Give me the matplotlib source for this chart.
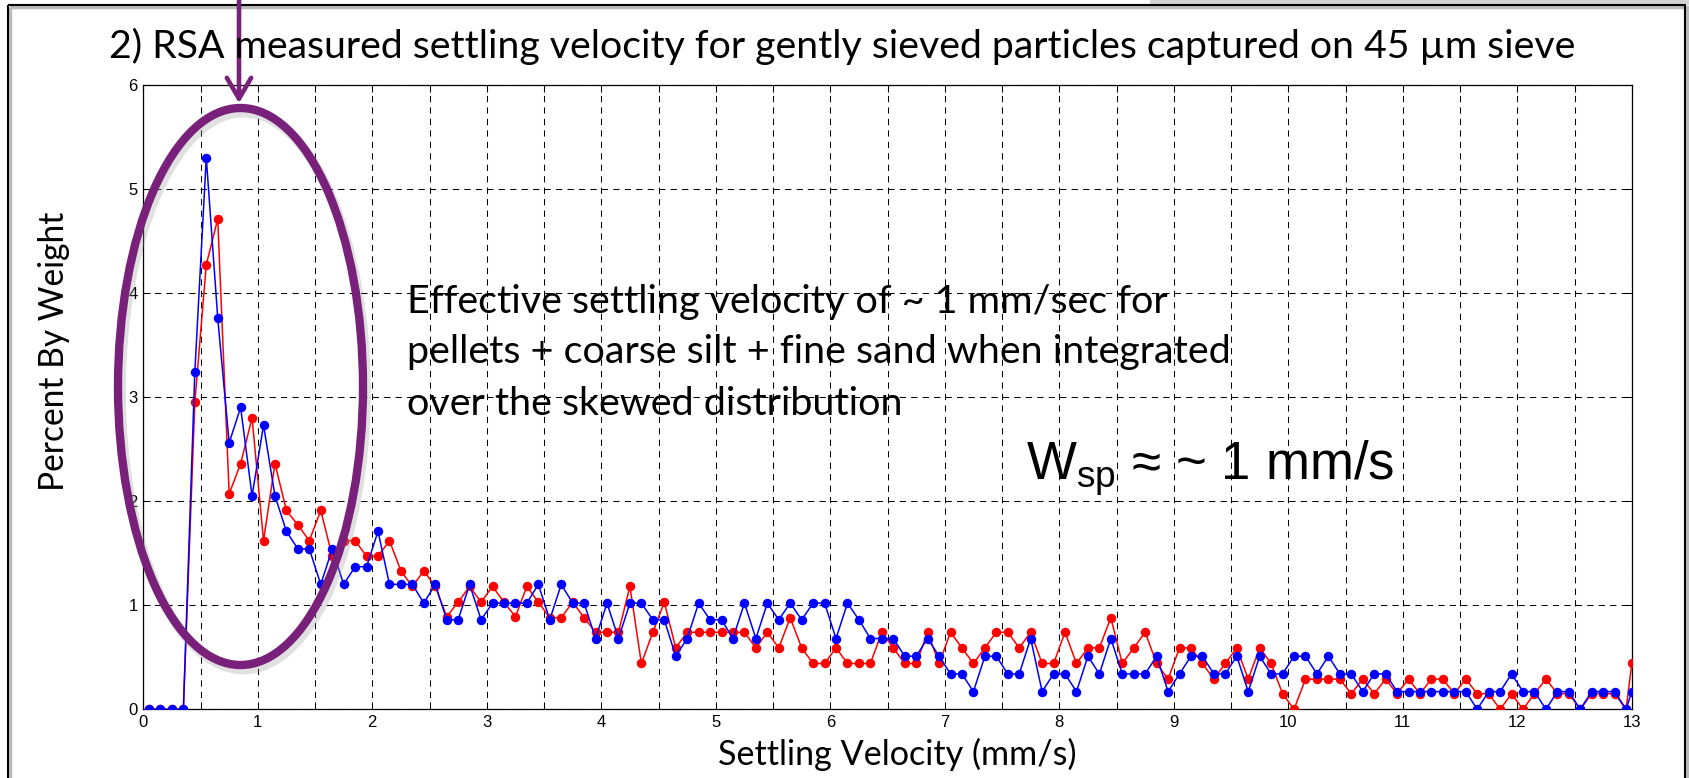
import matplotlib
matplotlib.use('Agg')
import matplotlib.pyplot as plt
from matplotlib.patches import Ellipse, Rectangle, FancyArrowPatch
import numpy as np

# bin centres (mm/s), 0.1 wide, plus the last edge bin at 13
velocity = np.append(np.round(np.arange(0.05, 13.0, 0.1), 2), 13.0)

# percent by weight, blue run
blue_pct = [
    0, 0, 0, 0, 3.24, 5.30, 3.76, 2.56, 2.90, 2.05,            # 0.05 - 0.95
    2.73, 2.05, 1.71, 1.54, 1.54, 1.20, 1.54, 1.20, 1.37, 1.37,  # 1.05 - 1.95
    1.71, 1.20, 1.20, 1.20, 1.02, 1.20, 0.86, 0.86, 1.20, 0.86,  # 2.05 - 2.95
    1.02, 1.02, 1.02, 1.02, 1.20, 0.86, 1.20, 1.02, 1.02, 0.68,  # 3.05 - 3.95
    1.02, 0.68, 1.02, 1.02, 0.86, 0.86, 0.51, 0.68, 1.02, 0.86,  # 4.05 - 4.95
    0.86, 0.68, 1.02, 0.68, 1.02, 0.86, 1.02, 0.86, 1.02, 1.02,  # 5.05 - 5.95
    0.68, 1.02, 0.86, 0.68, 0.68, 0.68, 0.51, 0.51, 0.68, 0.51,  # 6.05 - 6.95
    0.34, 0.34, 0.17, 0.51, 0.51, 0.34, 0.34, 0.68, 0.17, 0.34,  # 7.05 - 7.95
    0.34, 0.17, 0.51, 0.34, 0.68, 0.34, 0.34, 0.34, 0.51, 0.17,  # 8.05 - 8.95
    0.34, 0.51, 0.51, 0.34, 0.34, 0.51, 0.17, 0.51, 0.34, 0.34,  # 9.05 - 9.95
    0.51, 0.51, 0.34, 0.51, 0.34, 0.34, 0.17, 0.34, 0.34, 0.17,  # 10.05 - 10.95
    0.17, 0.17, 0.17, 0.17, 0.17, 0.17, 0, 0.17, 0.17, 0.34,     # 11.05 - 11.95
    0.17, 0.17, 0, 0.17, 0.17, 0, 0.17, 0.17, 0.17, 0,           # 12.05 - 12.95
    0.17,                                                        # 13.0
]

# percent by weight, red run
red_pct = [
    0, 0, 0, 0, 2.95, 4.27, 4.71, 2.07, 2.36, 2.80,
    1.62, 2.36, 1.91, 1.77, 1.62, 1.91, 1.47, 1.62, 1.62, 1.47,
    1.47, 1.62, 1.33, 1.18, 1.33, 1.18, 0.89, 1.03, 1.18, 1.03,
    1.18, 1.03, 0.89, 1.18, 1.03, 0.88, 0.88, 1.03, 0.88, 0.74,
    0.74, 0.74, 1.18, 0.44, 0.74, 1.03, 0.59, 0.74, 0.74, 0.74,
    0.74, 0.74, 0.74, 0.59, 0.74, 0.59, 0.88, 0.59, 0.44, 0.44,
    0.59, 0.44, 0.44, 0.44, 0.74, 0.59, 0.44, 0.44, 0.74, 0.44,
    0.74, 0.59, 0.44, 0.59, 0.74, 0.74, 0.59, 0.74, 0.44, 0.44,
    0.74, 0.44, 0.59, 0.59, 0.88, 0.44, 0.59, 0.74, 0.44, 0.29,
    0.59, 0.59, 0.44, 0.29, 0.44, 0.59, 0.29, 0.59, 0.44, 0.15,
    0, 0.29, 0.29, 0.29, 0.29, 0.15, 0.29, 0.15, 0.29, 0.15,
    0.29, 0.15, 0.29, 0.29, 0.15, 0.29, 0.15, 0.15, 0, 0.15,
    0, 0.15, 0.29, 0.15, 0.15, 0, 0.15, 0.15, 0.15, 0,
    0.44,
]

x_ticks = list(range(0, 14))
y_ticks = list(range(0, 7))

title = '2) RSA measured settling velocity for gently sieved particles captured on 45 \u00b5m sieve'
note_lines = ['Effective settling velocity of ~ 1 mm/sec for',
              'pellets + coarse silt + fine sand when integrated',
              'over the skewed distribution']

W, H = 1690, 778
fig = plt.figure(figsize=(W / 100, H / 100), dpi=100)
fig.patch.set_facecolor('white')

# main axes, placed in pixels
ax = fig.add_axes([143.3 / W, 1 - 709.3 / H, 1488.5 / W, 624.6 / H])
ax.plot(velocity, red_pct, color='red', lw=1.1, marker='o', ms=5.8, mec='red', zorder=3)
ax.plot(velocity, blue_pct, color='blue', lw=1.1, marker='o', ms=5.8, mec='blue', zorder=4)
ax.set_xlim(0, 13)
ax.set_ylim(0, 6)
tick_font = dict(fontsize=12, family='Liberation Sans')
ax.set_xticks(x_ticks, labels=[str(v) for v in x_ticks], **tick_font)
ax.set_xticks(np.arange(0.5, 13, 1.0), minor=True)
ax.set_yticks(y_ticks, labels=[str(v) for v in y_ticks], **tick_font)
ax.grid(True, which='both', axis='x', color='black', lw=0.75, ls=(0, (6, 5)))
ax.grid(True, which='major', axis='y', color='black', lw=0.75, ls=(0, (6, 5)))
ax.tick_params(which='both', direction='in', top=True, right=True, length=5, width=0.75)
ax.tick_params(axis='x', pad=4)
ax.tick_params(axis='y', pad=4)
for sp in ax.spines.values():
    sp.set_linewidth(0.9)

# overlay in pixel coords for the slide bits
ov = fig.add_axes([0, 0, 1, 1], zorder=5)
ov.set_xlim(0, W)
ov.set_ylim(H, 0)
ov.axis('off')
ov.patch.set_alpha(0)

ov.add_patch(Rectangle((1150, 0), 540, 4.5, color='#d2d2d2', lw=0))
ov.add_patch(Rectangle((10, 7), 1677, 800, fill=False, ec='#bbbbbb', lw=2.5))
ov.add_patch(Rectangle((8, 5), 1677, 800, fill=False, ec='black', lw=1.5))

purple = '#78207a'
ov.add_patch(Ellipse((243.5, 391), 245, 557, fill=False, ec='#999999', lw=7, alpha=0.3))
ov.add_patch(Ellipse((240.5, 386.5), 245, 557, fill=False, ec=purple, lw=6))
ov.add_patch(FancyArrowPatch((239, -10), (239, 106), arrowstyle='->,head_length=0.6,head_width=0.35',
                             mutation_scale=25, color=purple, lw=3.3))

txt_font = 'Lato'
renderer = fig.canvas.get_renderer()

def fit(t, target, vertical=False):
    bb = t.get_window_extent(renderer=renderer)
    size = bb.height if vertical else bb.width
    t.set_fontsize(t.get_fontsize() * target / size)

t = ov.text(109, 58, title, family=txt_font, fontsize=26, ha='left', va='baseline')
fit(t, 1463)

t = ov.text(718, 765, 'Settling Velocity (mm/s)', family=txt_font, fontsize=20, ha='left', va='baseline')
fit(t, 359)

t = ov.text(54, 351, 'Percent By Weight', family=txt_font, fontsize=20, rotation=90, ha='center', va='center')
fit(t, 280, vertical=True)

baselines = [313, 363, 415]
t2 = ov.text(407, baselines[1], note_lines[1], family=txt_font, fontsize=22, ha='left', va='baseline')
fit(t2, 822)
for line, yb in zip([note_lines[0], note_lines[2]], [baselines[0], baselines[2]]):
    ov.text(407, yb, line, family=txt_font, fontsize=t2.get_fontsize(), ha='left', va='baseline')

t = ov.text(1026, 480, 'W$_{\\mathregular{sp}}$ \u2248 ~ 1 mm/s', family=['Liberation Sans', 'DejaVu Sans'],
            fontsize=32, ha='left', va='baseline')
fit(t, 369)

fig.savefig('out.png', dpi=100, facecolor='white')
